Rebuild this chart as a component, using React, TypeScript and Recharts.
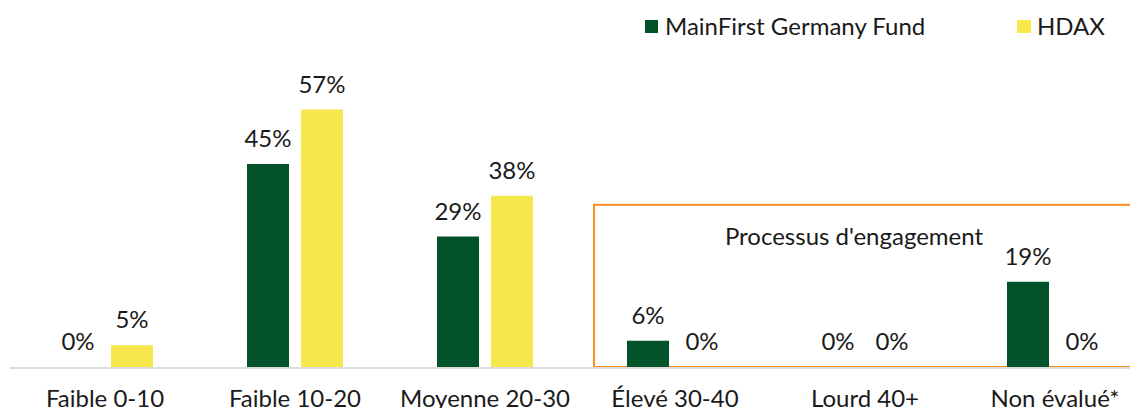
import React from 'react';
import {
  BarChart,
  Bar,
  Cell,
  XAxis,
  YAxis,
  LabelList,
  ReferenceArea
} from 'recharts';

// 카테고리 / 시리즈 값 (%)
const categories = ['Faible 0-10', 'Faible 10-20', 'Moyenne 20-30', 'Élevé 30-40', 'Lourd 40+', 'Non évalué*'];
const fundValues = [0, 45, 29, 6, 0, 19];
const hdaxValues = [5, 57, 38, 0, 0, 0];

const FUND_NAME = 'MainFirst Germany Fund';
const INDEX_NAME = 'HDAX';
const ENGAGEMENT_LABEL = "Processus d'engagement";

const GREEN = '#02522a';
const YELLOW = '#f6e84a';
const ORANGE = '#f7901e';
const TEXT = '#1a1a1a';
const FONT = 'Lato, "Noto Sans", sans-serif';
const FS = 24;

const data = categories.map((name, i) => ({
  name,
  fund: fundValues[i],
  hdax: hdaxValues[i]
}));

// 범례 (차트 위에 겹쳐서 배치)
const ChartLegend = () => (
  <div style={{ position: 'absolute', top: 12, left: 645, display: 'flex', fontFamily: FONT, fontSize: FS, color: TEXT, lineHeight: '28px' }}>
    <div style={{ display: 'flex', alignItems: 'center', width: 372 }}>
      <span style={{ width: 13, height: 13, background: GREEN, marginRight: 7 }} />
      {FUND_NAME}
    </div>
    <div style={{ display: 'flex', alignItems: 'center' }}>
      <span style={{ width: 14, height: 13, background: YELLOW, marginRight: 6 }} />
      {INDEX_NAME}
    </div>
  </div>
);

// 주황색 박스 + 제목
const EngagementBox = (props: any) => {
  const { x, y, width, height } = props;
  const left = x + 14;
  return (
    <g>
      <rect x={left} y={y} width={width} height={height - 1} fill="none" stroke={ORANGE} strokeWidth={2} />
      <text
        x={x + width / 2 - 11}
        y={y + 40}
        textAnchor="middle"
        fontFamily={FONT}
        fontSize={FS}
        fill={TEXT}
      >
        {ENGAGEMENT_LABEL}
      </text>
    </g>
  );
};

const pct = (v: any) => `${v}%`;
const zeroSize = (v: any) => (v === 0 ? 1 : 0);

const App = () => {
  return (
    <div style={{ position: 'absolute', left: 0, top: 0, width: 1130, height: 408, overflow: 'hidden', background: '#fff' }}>
      <BarChart
        width={1150}
        height={408}
        data={data}
        margin={{ top: 96, right: 0, left: 10, bottom: 0 }}
        barSize={42}
        barGap={12}
      >
        <XAxis
          dataKey="name"
          height={40}
          axisLine={{ stroke: '#dcdcdc', strokeWidth: 2 }}
          tickLine={false}
          tickMargin={16}
          interval={0}
          tick={{ fontSize: FS, fill: TEXT, fontFamily: FONT }}
        />
        <YAxis hide domain={[0, 60]} />
        <Bar dataKey="fund" name={FUND_NAME} fill={GREEN} minPointSize={zeroSize} isAnimationActive={false}>
          {fundValues.map((v, i) => (
            <Cell key={i} fill={v === 0 ? '#dcdcdc' : GREEN} />
          ))}
          <LabelList dataKey="fund" position="top" offset={17} formatter={pct} fill={TEXT} fontSize={FS} fontFamily={FONT} />
        </Bar>
        <Bar dataKey="hdax" name={INDEX_NAME} fill={YELLOW} minPointSize={zeroSize} isAnimationActive={false}>
          {hdaxValues.map((v, i) => (
            <Cell key={i} fill={v === 0 ? '#dcdcdc' : YELLOW} />
          ))}
          <LabelList dataKey="hdax" position="top" offset={17} formatter={pct} fill={TEXT} fontSize={FS} fontFamily={FONT} />
        </Bar>
        <ReferenceArea
          x1={categories[3]}
          x2={categories[5]}
          y1={0}
          y2={36}
          ifOverflow="visible"
          shape={<EngagementBox />}
        />
      </BarChart>
      <ChartLegend />
    </div>
  );
};

export default App;
